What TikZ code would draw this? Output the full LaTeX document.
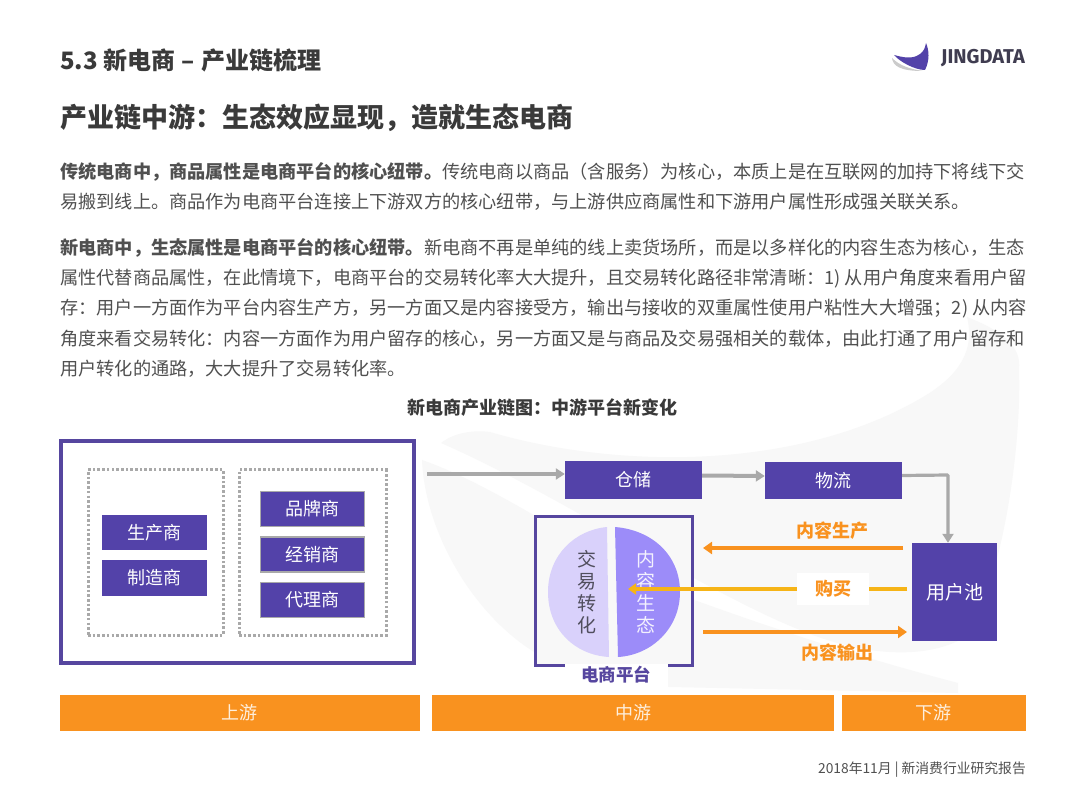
\documentclass[tikz,border=0pt]{standalone}
\usepackage{fontspec}
\setmainfont{Noto Sans CJK SC}
\newfontfamily\logofont{Fira Sans}
\usetikzlibrary{arrows.meta,calc}
\newcommand\zcomma{\char"FF0C\relax}
\newcommand\zcolon{\char"FF1A\relax}
\newcommand\zsemi{\char"FF1B\relax}
\newcommand\zlp{\char"FF08\relax}
\newcommand\zrp{\char"FF09\relax}
\definecolor{purp}{HTML}{5342A9}
\definecolor{frame}{HTML}{56469F}
\definecolor{orng}{HTML}{F9921F}
\definecolor{yel}{HTML}{F6B417}
\definecolor{gr}{HTML}{A9A9A9}
\definecolor{bodyc}{HTML}{505050}
\definecolor{headc}{HTML}{3A3A3A}
\definecolor{wm}{HTML}{F8F8F8}
\definecolor{halfl}{HTML}{D9D1FB}
\definecolor{halfr}{HTML}{9C8CF9}
\tikzset{
  pbox/.style={fill=purp,text=white,inner sep=0pt,font=\fontsize{18}{18}\selectfont},
  pboxedge/.style={pbox,draw=gr,line width=1.5pt},
  bar/.style={fill=orng,text=white!85!orng,inner sep=0pt,minimum height=36pt,font=\fontsize{18}{18}\selectfont},
  dotframe/.style={draw=gr,line width=3pt,dash pattern=on 2.6pt off 2.1pt},
  bodyline/.style={anchor=west,inner sep=0pt,text=bodyc,font=\fontsize{18.2}{18.2}\selectfont},
  greyarrow/.style={draw=gr,line width=3.2pt,-{Triangle[length=9pt,width=11pt]}},
  orangearrow/.style={draw=orng,line width=3.4pt,-{Triangle[length=9pt,width=12pt]}},
  yellowarrow/.style={draw=yel,line width=3.4pt},
  olabel/.style={text=orng,inner sep=0pt,font=\fontsize{18}{18}\selectfont\bfseries},
  vtext/.style={inner sep=0pt,align=center,font=\fontsize{19}{22}\selectfont},
}
\begin{document}
\begin{tikzpicture}[x=1pt,y=-1pt]
\useasboundingbox (0,0) rectangle (1080,810);
\fill[white] (0,0) rectangle (1080,810);
% watermark
\fill[wm] (441,443) .. controls (455,432) and (475,430) .. (490,432)
  .. controls (620,470) and (800,470) .. (923,397)
  .. controls (960,375) and (975,350) .. (967,317)
  .. controls (1000,330) and (1022,345) .. (1019,370)
  .. controls (1022,450) and (1000,600) .. (960,640)
  .. controls (920,660) and (860,655) .. (800,630)
  .. controls (700,590) and (560,495) .. (441,443) -- cycle;
\fill[wm] (422,460) .. controls (425,530) and (470,610) .. (531,650)
  .. controls (570,675) and (620,687) .. (670,687)
  -- (958,693) -- (958,683)
  .. controls (890,665) and (800,640) .. (640,580)
  .. controls (560,530) and (480,480) .. (422,460) -- cycle;
% logo
\fill[gr!60] (892,58) .. controls (893,66) and (900,71) .. (923,71) .. controls (910,69) and (900,66) .. (892,58) -- cycle;
\fill[purp] (894,55) .. controls (902,57) and (912,60) .. (920,54) .. controls (924,51) and (925,48) .. (926,43)
  .. controls (929,50) and (930,60) .. (925,70) .. controls (915,70) and (900,62) .. (894,55) -- cycle;
\node[anchor=west,inner sep=0pt,text=headc!80!purp] (logo) at (941,58.5) {\logofont\bfseries\fontsize{20}{20}\selectfont JINGDATA};
% headings
\node[anchor=west,inner sep=0pt,text=headc,font=\fontsize{24}{24}\selectfont\bfseries] (title) at (60,60) {5.3 新电商\kern1pt{} –\kern1pt{} 产业链梳理};
\node[anchor=west,inner sep=0pt,text=headc,font=\fontsize{27}{27}\selectfont\bfseries] (head) at (60,118) {产业链中游\zcolon 生态效应显现\zcomma 造就生态电商};
% body
\node[bodyline] (l1) at (60,172) {\textbf{传统电商中\zcomma 商品属性是电商平台的核心纽带。}传统电商以商品\zlp 含服务\zrp 为核心\zcomma 本质上是在互联网的加持下将线下交};
\node[bodyline] (l2) at (60,202) {易搬到线上。商品作为电商平台连接上下游双方的核心纽带\zcomma 与上游供应商属性和下游用户属性形成强关联关系。};
\node[bodyline] (l3) at (60,248) {\textbf{新电商中\zcomma 生态属性是电商平台的核心纽带。}新电商不再是单纯的线上卖货场所\zcomma 而是以多样化的内容生态为核心\zcomma 生态};
\node[bodyline] (l4) at (60,279) {属性代替商品属性\zcomma 在此情境下\zcomma 电商平台的交易转化率大大提升\zcomma 且交易转化路径非常清晰\zcolon 1)\kern4pt 从用户角度来看用户留};
\node[bodyline] (l5) at (60,309) {存\zcolon 用户一方面作为平台内容生产方\zcomma 另一方面又是内容接受方\zcomma 输出与接收的双重属性使用户粘性大大增强\zsemi 2)\kern4pt 从内容};
\node[bodyline] (l6) at (60,339) {角度来看交易转化\zcolon 内容一方面作为用户留存的核心\zcomma 另一方面又是与商品及交易强相关的载体\zcomma 由此打通了用户留存和};
\node[bodyline] (l7) at (60,369) {用户转化的通路\zcomma 大大提升了交易转化率。};
\node[inner sep=0pt,text=headc,font=\fontsize{18}{18}\selectfont\bfseries] (cap) at (542,408) {新电商产业链图\zcolon 中游平台新变化};
% upstream
\node[draw=frame,fill=white,line width=4pt,inner sep=0pt,minimum width=353pt,minimum height=222pt] (outer) at (237.5,552) {};
\node[dotframe,inner sep=0pt,minimum width=135pt,minimum height=165pt] (d1) at (155.5,552.5) {};
\node[dotframe,inner sep=0pt,minimum width=147pt,minimum height=165pt] (d2) at (312.5,552.5) {};
\node[pbox,minimum width=105pt,minimum height=35pt] (a1) at (154.5,532.5) {生产商};
\node[pbox,minimum width=105pt,minimum height=36pt] (a2) at (154.5,578) {制造商};
\node[pboxedge,minimum width=104pt,minimum height=35pt] (b1) at (312.5,509) {品牌商};
\node[pboxedge,minimum width=104pt,minimum height=35pt] (b2) at (312.5,554.5) {经销商};
\node[pboxedge,minimum width=104pt,minimum height=35pt] (b3) at (312.5,600) {代理商};
% midstream
\node[pbox,minimum width=137pt,minimum height=37pt] (cang) at (633.5,480) {仓储};
\node[pbox,minimum width=137pt,minimum height=37pt] (wu) at (833.5,480.5) {物流};
\node[pbox,minimum width=85pt,minimum height=98pt,font=\fontsize{19}{19}\selectfont] (pool) at (954.5,592) {用户池};
\coordinate (inflow) at (427,474);
\coordinate (bend) at (948,475);
\draw[greyarrow] (inflow) -- (inflow -| cang.west);
\draw[greyarrow,line width=4pt] ([yshift=4.5pt]cang.east) -- ([yshift=4.5pt]wu.west);
\draw[greyarrow,rounded corners=1pt] ([yshift=5pt]wu.east) -- (bend) -- (bend |- pool.north);
% platform
\fill[wm] (535.5,516.5) rectangle (692.5,665.5);
\draw[frame,line width=3.2pt] (565,665.5) -- (535.5,665.5) -- (535.5,516.5) -- (692.5,516.5) -- (692.5,665.5) -- (668,665.5);
\fill[white] (565,664) rectangle (668,690);
\node[inner sep=0pt,text=frame,font=\fontsize{17.5}{17.5}\selectfont\bfseries] (platname) at (616,675) {电商平台};
\fill[halfl] (607,527) .. controls (575,530) and (548,555) .. (548,592) .. controls (548,630) and (575,655) .. (609,657) -- cycle;
\fill[halfr] (615,527) .. controls (652,530) and (680,555) .. (680,592) .. controls (680,628) and (652,655) .. (618,657) -- cycle;
\node[vtext,text=bodyc!85!purp] (jy) at (587,592) {交\\易\\转\\化};
\node[vtext,text=white!88!halfr] (nr) at (646,592) {内\\容\\生\\态};
% flows
\coordinate (p1s) at (903,548); \coordinate (p1e) at (703,548);
\coordinate (p2s) at (907,589); \coordinate (p2e) at (628,589);
\coordinate (p3s) at (703,632); \coordinate (p3e) at (907,632);
\draw[orangearrow] (p1s) -- (p1e);
\draw[yellowarrow,-{Triangle[length=8pt,width=11pt]}] (p2s) -- (p2e);
\draw[orangearrow] (p3s) -- (p3e);
\node[fill=white,inner sep=0pt,minimum width=72pt,minimum height=32pt,text=orng,font=\fontsize{18}{18}\selectfont\bfseries] (buy) at (833,589) {购买};
\node[olabel] (lab1) at (832.5,531) {内容生产};
\node[olabel] (lab3) at (837,653) {内容输出};
% bars
\node[bar,minimum width=360pt] (up) at (239.5,713) {上游};
\node[bar,minimum width=402pt] (mid) at (633,713) {中游};
\node[bar,minimum width=184pt] (down) at (933.5,713) {下游};
% footer
\node[anchor=east,inner sep=0pt,text=bodyc,font=\fontsize{13.8}{13.8}\selectfont] (foot) at (1026,770) {2018年11月 | 新消费行业研究报告};
\end{tikzpicture}
\end{document}
